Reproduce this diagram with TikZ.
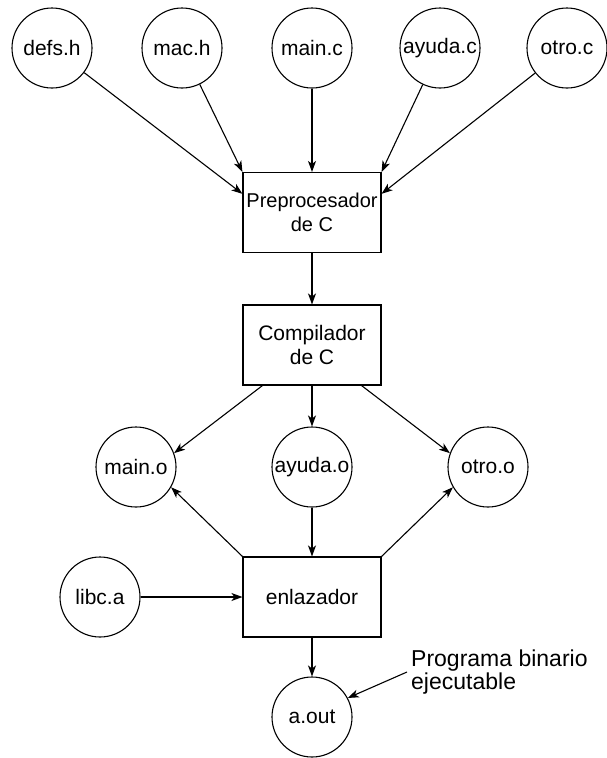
\documentclass[tikz,border=0pt]{standalone}
\usepackage{fontspec}
\setmainfont{Liberation Sans}
\usetikzlibrary{arrows.meta}
\begin{document}
\begin{tikzpicture}[x=1pt, y=-1pt,
        file/.style={circle, draw, line width=1.1pt, minimum size=80pt, inner sep=0.5pt, font=\fontsize{21}{24}\selectfont},
        stage/.style={rectangle, draw, line width=1.1pt, minimum width=138pt, minimum height=80pt, inner sep=1pt, align=center, font=\fontsize{21}{24}\selectfont},
        arrow/.style={-{Stealth[length=11pt, width=8pt, inset=3pt]}, line width=1.1pt}
    ]
    \useasboundingbox (0,0) rectangle (607,758);
    % Nodes
    \node[file] (defs) at (52, 48) {defs.h};
    \node[file] (mac) at (182, 48) {mac.h};
    \node[file] (mainc) at (312, 48) {main.c};
    \node[file] (ayudac) at (440, 48) {ayuda.c};
    \node[file] (otroc) at (567, 48) {otro.c};
    \node[stage, font=\fontsize{20}{24}\selectfont] (pre) at (312, 212.5) {Preprocesador\\de C};
    \node[stage] (comp) at (312, 345) {Compilador\\de C};
    \node[file] (maino) at (136, 467) {main.o};
    \node[file] (ayudao) at (312, 467) {ayuda.o};
    \node[file] (otroo) at (488, 467) {otro.o};
    \node[stage] (enl) at (312, 597) {enlazador};
    \node[file] (libc) at (100, 597) {libc.a};
    \node[file] (aout) at (312, 717) {a.out};
    \node[anchor=west, align=left, inner sep=4pt, font=\fontsize{23}{23.5}\selectfont] (note) at (407, 672) {Programa binario\\ejecutable};
    % Edges
    \draw[arrow] (defs) -- (pre.165);
    \draw[arrow] (mac) -- (pre.north west);
    \draw[arrow] (mainc) -- (pre);
    \draw[arrow] (ayudac) -- (pre.north east);
    \draw[arrow] (otroc) -- (pre.15);
    \draw[arrow] (pre) -- (comp);
    \draw[arrow] ([xshift=20pt]comp.south west) -- (maino.20);
    \draw[arrow] (comp) -- (ayudao);
    \draw[arrow] ([xshift=-20pt]comp.south east) -- (otroo.160);
    \draw[arrow] (enl.north west) -- (maino.-30);
    \draw[arrow] (ayudao) -- (enl);
    \draw[arrow] (enl.north east) -- (otroo.210);
    \draw[arrow] (libc) -- (enl);
    \draw[arrow] (enl) -- (aout);
    \draw[arrow] (note.west) -- (aout.28);
\end{tikzpicture}
\end{document}
